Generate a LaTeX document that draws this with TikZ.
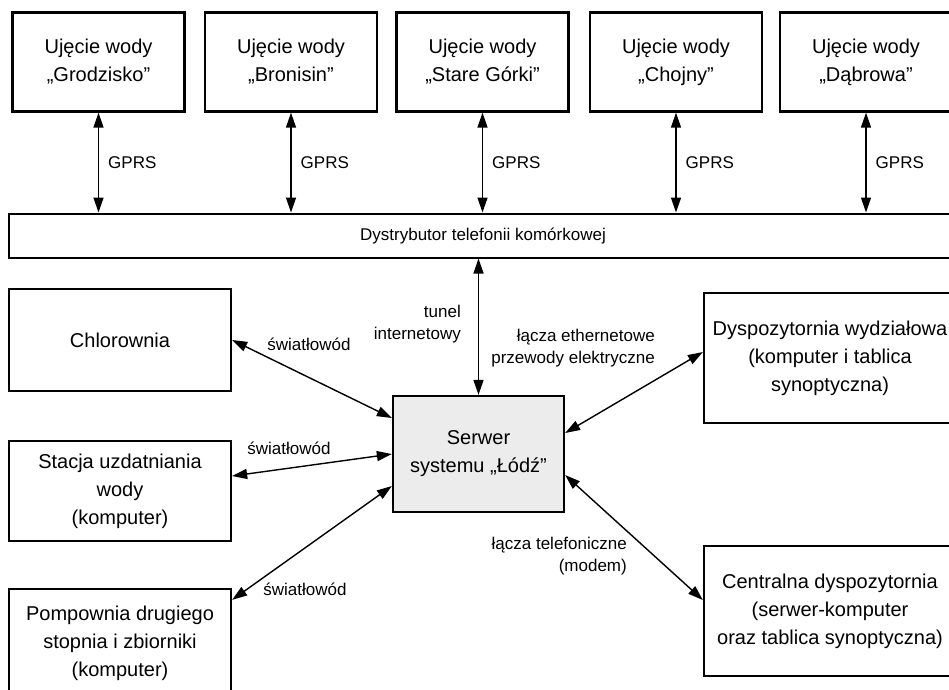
\documentclass[tikz,border=0pt]{standalone}
\usepackage{fontspec}
\setmainfont{Liberation Sans}
\usetikzlibrary{arrows.meta,calc}
\newcommand\boxfont{\fontsize{20}{28}\selectfont}
\newcommand\lblfont{\fontsize{17}{21.5}\selectfont}
\begin{document}
\begin{tikzpicture}[x=1pt,y=-1pt,
  box/.style={draw, line width=2.3pt, align=center, inner sep=0pt, font=\boxfont},
  topbox/.style={box, minimum width=172pt, minimum height=99pt},
  sidebox/.style={box, minimum width=222pt},
  rightbox/.style={box, minimum width=252pt, minimum height=130pt},
  lbl/.style={font=\lblfont, inner sep=0pt},
  arr/.style={line width=1.4pt, {Triangle[length=15pt,width=10pt]}-{Triangle[length=15pt,width=10pt]}}]
\useasboundingbox (0,0) rectangle (949,689);
\clip (0,0) rectangle (949,689);

% water intakes
\node[topbox] (u1) at (98.5,62) {Ujęcie wody\\„Grodzisko”};
\node[topbox] (u2) at (291,62) {Ujęcie wody\\„Bronisin”};
\node[topbox] (u3) at (482.5,62) {Ujęcie wody\\„Stare Górki”};
\node[topbox] (u4) at (676,62) {Ujęcie wody\\„Chojny”};
\node[topbox] (u5) at (866,62) {Ujęcie wody\\„Dąbrowa”};

% mobile operator bar
\node[draw, line width=2pt, minimum width=948pt, minimum height=44pt, inner sep=0pt,
      font=\lblfont] (dist) at (483,235.5) {Dystrybutor telefonii komórkowej};

% GPRS links
\foreach \u/\g in {u1/g1,u2/g2,u3/g3,u4/g4,u5/g5}
  \draw[arr] (\u.south) -- node[lbl, right=9pt] (\g) {GPRS} (\u.south |- dist.north);

% local sites
\node[sidebox, minimum height=102pt] (chl) at (120,340) {Chlorownia};
\node[sidebox, minimum height=100pt] (suw) at (120,491) {Stacja uzdatniania\\wody\\(komputer)};
\node[sidebox, minimum height=108pt] (pomp) at (120,643) {Pompownia drugiego\\stopnia i zbiorniki\\(komputer)};

% central server
\node[box, fill=gray!15, minimum width=171pt, minimum height=116pt] (srv) at (478.5,454)
  {Serwer\\systemu „Łódź”};

% dispatch rooms
\node[rightbox] (dysp) at (830,358) {Dyspozytornia wydziałowa\\(komputer i tablica\\synoptyczna)};
\node[rightbox] (cent) at (830,611) {Centralna dyspozytornia\\(serwer-komputer\\oraz tablica synoptyczna)};

% links to the server
\draw[arr] (srv.north) -- (srv.north |- dist.south);
\draw[arr] (chl.east) -- ([yshift=36pt]srv.west);
\draw[arr] ([yshift=15pt]suw.east) -- (srv.west);
\draw[arr] ([yshift=-12pt]pomp.north east) -- ([yshift=-32pt]srv.west);
\draw[arr] ([yshift=21pt]srv.east) -- ([yshift=6pt]dysp.west);
\draw[arr] ([yshift=-21pt]srv.east) -- ([yshift=11pt]cent.west);

% link labels
\node[lbl] (s1) at (309,344) {światłowód};
\node[lbl] (s2) at (289,448) {światłowód};
\node[lbl] (s3) at (305,589) {światłowód};
\node[lbl, align=right, anchor=east] (tun) at (461,324) {tunel\\internetowy};
\node[lbl, align=right, anchor=east] (eth) at (655,348) {łącza ethernetowe\\przewody elektryczne};
\node[lbl, align=right, anchor=east] (tel) at (627,556) {łącza telefoniczne\\(modem)};
\end{tikzpicture}
\end{document}
